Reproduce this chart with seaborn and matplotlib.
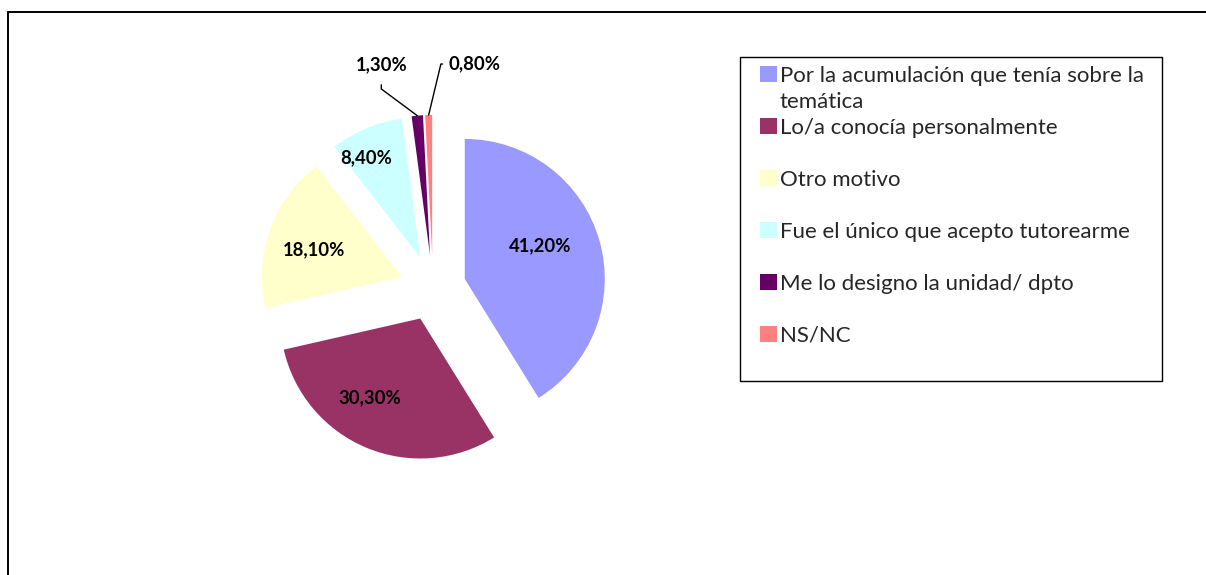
import numpy as np
import matplotlib
matplotlib.use("Agg")
import matplotlib.pyplot as plt
import seaborn as sns
from matplotlib.patches import Patch, Rectangle
from matplotlib.lines import Line2D

# ---- data ----
categories = [
    "Por la acumulación que tenía sobre la\ntemática",
    "Lo/a conocía personalmente",
    "Otro motivo",
    "Fue el único que acepto tutorearme",
    "Me lo designo la unidad/ dpto",
    "NS/NC",
]
values = [41.2, 30.3, 18.1, 8.4, 1.3, 0.8]
colors = ["#9999FF", "#993366", "#FFFFCC", "#CCFFFF", "#660066", "#FF8080"]

sns.set_theme(style="white")
plt.rcParams["font.family"] = ["Lato", "DejaVu Sans"]

W, H = 1206, 575
fig = plt.figure(figsize=(W / 100, H / 100), dpi=100)
fig.patch.set_facecolor("white")

# outer chart frame (runs off the right and bottom edges)
fig.add_artist(Line2D([8 / W, 1.0], [1 - 12 / H, 1 - 12 / H], transform=fig.transFigure,
                      color="black", lw=1.4))
fig.add_artist(Line2D([8 / W, 8 / W], [1 - 12 / H, 0.0], transform=fig.transFigure,
                      color="black", lw=1.4))

# pie axes: centre at (433, 288) px, radius 140 px
R = 140.0
ax = fig.add_axes([233 / W, 87 / H, 400 / W, 400 / H])

explode = [0.236] * len(values)
wedges, _ = ax.pie(values, colors=colors, explode=explode, startangle=90,
                   counterclock=False, radius=1.0,
                   wedgeprops=dict(linewidth=0, edgecolor="none"))
lim = 200 / R
ax.set_xlim(-lim, lim)
ax.set_ylim(-lim, lim)
ax.set_aspect("equal")
ax.axis("off")

def pct(v):
    return f"{v:.2f}%".replace(".", ",")

# inside labels (distance from wedge tip in radius units, angular tweak in degrees)
inside_dist = [0.59, 0.67, 0.66, 0.81]
inside_off = [8, -10, 2.5, 6]
for i in range(4):
    w = wedges[i]
    mid = np.deg2rad((w.theta1 + w.theta2) / 2 + inside_off[i])
    cx, cy = w.center
    ax.text(cx + w.r * inside_dist[i] * np.cos(mid),
            cy + w.r * inside_dist[i] * np.sin(mid),
            pct(values[i]), ha="center", va="center",
            fontsize=13.3, fontweight="bold", color="black")

# outside labels with leader lines
out_offsets = [(-36, 51), (46, 51)]   # pixel offsets of text from wedge tip
conn = ["angle,angleA=90,angleB=-36.6,rad=0", "angle,angleA=0,angleB=76.5,rad=0"]
shrinkA = [6, 2]
for k, i in enumerate([4, 5]):
    w = wedges[i]
    mid = np.deg2rad((w.theta1 + w.theta2) / 2)
    cx, cy = w.center
    xy = (cx + w.r * np.cos(mid), cy + w.r * np.sin(mid))
    ax.annotate(pct(values[i]), xy=xy, xytext=out_offsets[k], textcoords="offset pixels",
                ha="center", va="center", fontsize=13.3, fontweight="bold", color="black",
                arrowprops=dict(arrowstyle="-", color="black", lw=1.0,
                                connectionstyle=conn[k], shrinkA=shrinkA[k], shrinkB=0))

# legend: one slot of two text rows per category
handles, labels = [], []
for c, lab in zip(colors, categories):
    parts = lab.split("\n")
    handles.append(Patch(facecolor=c, edgecolor="none"))
    labels.append(parts[0])
    handles.append(Patch(facecolor="none", edgecolor="none"))
    labels.append(parts[1] if len(parts) > 1 else " ")

fig.add_artist(Rectangle((740 / W, 1 - 381 / H), 422 / W, 324 / H, transform=fig.transFigure,
                         facecolor="none", edgecolor="black", lw=1.0))
leg = fig.legend(handles, labels, loc="upper left", bbox_to_anchor=(760 / W, 1 - 66 / H),
                 bbox_transform=fig.transFigure, frameon=False, borderpad=0,
                 borderaxespad=0, fontsize=16, handlelength=0.75, handleheight=0.75,
                 handletextpad=0.15, labelspacing=0.27)

fig.savefig("out.png", dpi=100, facecolor="white")
